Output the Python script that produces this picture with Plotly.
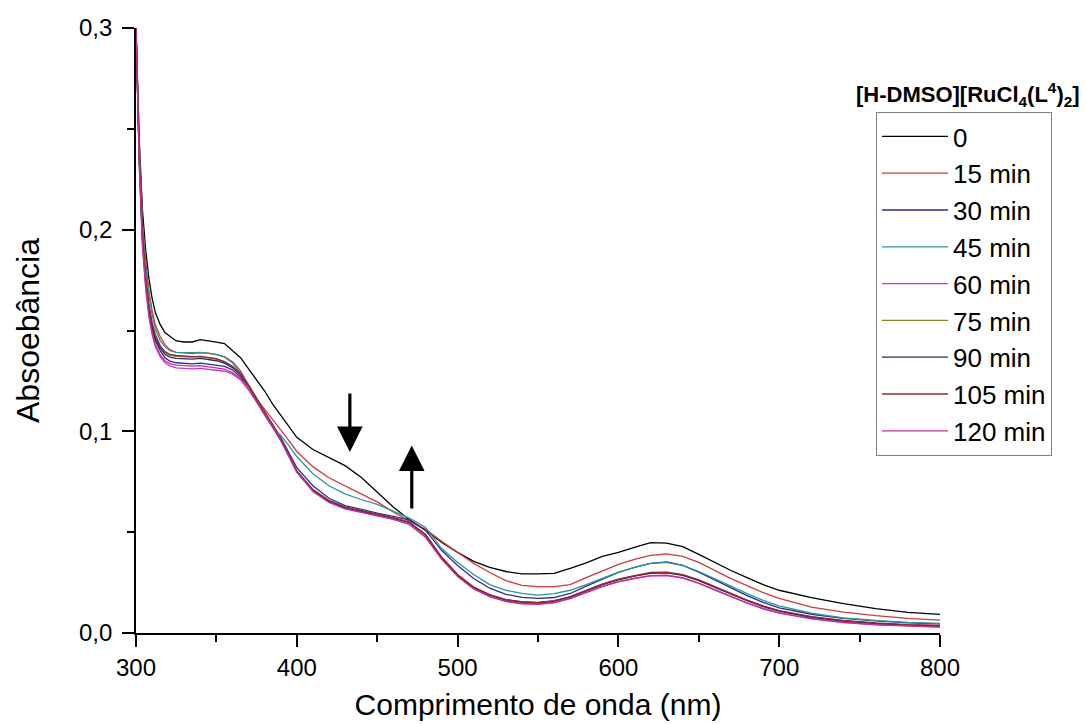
import plotly.graph_objects as go

# Wavelength grid (nm)
wavelength = [300, 302, 304, 306, 308, 310, 312, 315, 318, 321,
              325, 330, 335, 340, 345, 350, 355, 360, 365, 370, 375, 380, 385, 390, 395, 400,
              410, 420, 430, 440, 450, 460, 470, 480, 490, 500, 510, 520, 530, 540, 550, 560,
              570, 580, 590, 600, 610, 620, 630, 640, 650, 660, 670, 680, 690, 700,
              720, 740, 760, 780, 800]

abs_0 = [0.300, 0.245, 0.210, 0.190, 0.176, 0.166, 0.159, 0.153, 0.149, 0.147,
         0.1448, 0.1443, 0.1443, 0.1455, 0.1450, 0.1442, 0.1435, 0.1400, 0.1365, 0.1310, 0.1255, 0.1200, 0.1135, 0.1080, 0.1020, 0.0970,
         0.0910, 0.0870, 0.0830, 0.0772, 0.0700, 0.0625, 0.0562, 0.0510, 0.0450, 0.0400, 0.0355, 0.0325, 0.0305, 0.0293, 0.0293, 0.0296,
         0.0320, 0.0348, 0.0380, 0.0400, 0.0425, 0.0448, 0.0446, 0.0428, 0.0390, 0.0350, 0.0310, 0.0275, 0.0240, 0.0212,
         0.0175, 0.0146, 0.0121, 0.0102, 0.0092]

abs_15 = [0.300, 0.242, 0.204, 0.184, 0.170, 0.160, 0.153, 0.147, 0.143, 0.1405,
          0.1392, 0.1387, 0.1385, 0.1390, 0.1388, 0.1380, 0.1370, 0.1345, 0.1300, 0.1230, 0.1160, 0.1110, 0.1060, 0.1010, 0.0955, 0.0900,
          0.0825, 0.0770, 0.0728, 0.0690, 0.0650, 0.0600, 0.0555, 0.0515, 0.0455, 0.0400, 0.0345, 0.0300, 0.0260, 0.0236, 0.0230, 0.0230,
          0.0240, 0.0275, 0.0308, 0.0340, 0.0365, 0.0385, 0.0392, 0.0380, 0.0350, 0.0310, 0.0270, 0.0235, 0.0200, 0.0172,
          0.0128, 0.0103, 0.0086, 0.0073, 0.0064]

abs_30 = [0.300, 0.236, 0.196, 0.175, 0.160, 0.151, 0.145, 0.140, 0.1365, 0.1348,
          0.1340, 0.1336, 0.1335, 0.1338, 0.1333, 0.1330, 0.1322, 0.1305, 0.1270, 0.1225, 0.1160, 0.1095, 0.1030, 0.0970, 0.0895, 0.0820,
          0.0730, 0.0668, 0.0632, 0.0612, 0.0595, 0.0578, 0.0560, 0.0510, 0.0410, 0.0335, 0.0270, 0.0222, 0.0192, 0.0177, 0.0172, 0.0176,
          0.0196, 0.0232, 0.0268, 0.0300, 0.0325, 0.0345, 0.0352, 0.0335, 0.0302, 0.0262, 0.0222, 0.0185, 0.0152, 0.0125,
          0.0093, 0.0073, 0.0060, 0.0050, 0.0045]

abs_45 = [0.300, 0.240, 0.202, 0.182, 0.168, 0.158, 0.151, 0.145, 0.1420, 0.1400,
          0.1392, 0.1390, 0.1390, 0.1392, 0.1388, 0.1382, 0.1368, 0.1340, 0.1290, 0.1225, 0.1150, 0.1080, 0.1020, 0.0980, 0.0930, 0.0875,
          0.0790, 0.0730, 0.0690, 0.0662, 0.0638, 0.0605, 0.0570, 0.0525, 0.0420, 0.0350, 0.0290, 0.0240, 0.0212, 0.0196, 0.0188, 0.0195,
          0.0212, 0.0240, 0.0272, 0.0302, 0.0325, 0.0345, 0.0350, 0.0335, 0.0305, 0.0270, 0.0232, 0.0195, 0.0162, 0.0135,
          0.0098, 0.0075, 0.0062, 0.0053, 0.0048]

abs_60 = [0.300, 0.232, 0.192, 0.171, 0.157, 0.148, 0.142, 0.1370, 0.1340, 0.1325,
          0.1315, 0.1311, 0.1310, 0.1312, 0.1306, 0.1303, 0.1298, 0.1285, 0.1255, 0.1205, 0.1145, 0.1085, 0.1020, 0.0955, 0.0880, 0.0800,
          0.0705, 0.0650, 0.0618, 0.0600, 0.0585, 0.0565, 0.0540, 0.0478, 0.0370, 0.0283, 0.0220, 0.0182, 0.0158, 0.0147, 0.0144, 0.0152,
          0.0172, 0.0202, 0.0232, 0.0255, 0.0272, 0.0285, 0.0287, 0.0274, 0.0248, 0.0215, 0.0182, 0.0150, 0.0122, 0.0101,
          0.0072, 0.0053, 0.0042, 0.0035, 0.0030]

abs_75 = [0.300, 0.236, 0.197, 0.176, 0.162, 0.153, 0.147, 0.1420, 0.1390, 0.1378,
          0.1372, 0.1370, 0.1368, 0.1370, 0.1365, 0.1358, 0.1345, 0.1322, 0.1285, 0.1230, 0.1165, 0.1100, 0.1030, 0.0962, 0.0885, 0.0805,
          0.0712, 0.0658, 0.0625, 0.0607, 0.0592, 0.0572, 0.0550, 0.0490, 0.0378, 0.0290, 0.0228, 0.0190, 0.0166, 0.0155, 0.0152, 0.0160,
          0.0180, 0.0210, 0.0242, 0.0266, 0.0284, 0.0298, 0.0300, 0.0288, 0.0262, 0.0228, 0.0194, 0.0162, 0.0133, 0.0110,
          0.0080, 0.0060, 0.0048, 0.0040, 0.0036]

abs_90 = [0.300, 0.236, 0.196, 0.175, 0.161, 0.152, 0.146, 0.1412, 0.1382, 0.1368,
          0.1362, 0.1360, 0.1358, 0.1362, 0.1356, 0.1350, 0.1338, 0.1316, 0.1280, 0.1226, 0.1160, 0.1094, 0.1026, 0.0958, 0.0880, 0.0800,
          0.0708, 0.0654, 0.0622, 0.0604, 0.0589, 0.0570, 0.0548, 0.0487, 0.0375, 0.0288, 0.0226, 0.0188, 0.0164, 0.0153, 0.0150, 0.0158,
          0.0178, 0.0208, 0.0240, 0.0264, 0.0282, 0.0296, 0.0298, 0.0286, 0.0260, 0.0226, 0.0192, 0.0160, 0.0131, 0.0108,
          0.0078, 0.0059, 0.0047, 0.0039, 0.0035]

abs_105 = [0.300, 0.237, 0.198, 0.177, 0.163, 0.154, 0.148, 0.1425, 0.1395, 0.1382,
           0.1376, 0.1373, 0.1370, 0.1372, 0.1367, 0.1360, 0.1346, 0.1322, 0.1285, 0.1228, 0.1162, 0.1096, 0.1027, 0.0958, 0.0882, 0.0802,
           0.0710, 0.0656, 0.0624, 0.0606, 0.0591, 0.0571, 0.0549, 0.0488, 0.0376, 0.0289, 0.0227, 0.0189, 0.0165, 0.0154, 0.0151, 0.0159,
           0.0179, 0.0210, 0.0242, 0.0267, 0.0285, 0.0300, 0.0302, 0.0290, 0.0263, 0.0229, 0.0195, 0.0163, 0.0134, 0.0111,
           0.0081, 0.0062, 0.0050, 0.0042, 0.0038]

abs_120 = [0.300, 0.233, 0.193, 0.172, 0.158, 0.149, 0.143, 0.1380, 0.1350, 0.1336,
           0.1328, 0.1325, 0.1323, 0.1326, 0.1320, 0.1316, 0.1308, 0.1292, 0.1262, 0.1212, 0.1150, 0.1088, 0.1022, 0.0955, 0.0878, 0.0798,
           0.0702, 0.0647, 0.0615, 0.0597, 0.0582, 0.0563, 0.0538, 0.0475, 0.0366, 0.0280, 0.0218, 0.0180, 0.0156, 0.0145, 0.0142, 0.0150,
           0.0170, 0.0200, 0.0230, 0.0253, 0.0270, 0.0283, 0.0285, 0.0272, 0.0246, 0.0213, 0.0180, 0.0148, 0.0120, 0.0099,
           0.0070, 0.0052, 0.0041, 0.0034, 0.0029]

series_names = ["0", "15 min", "30 min", "45 min", "60 min", "75 min", "90 min", "105 min", "120 min"]
series_values = [abs_0, abs_15, abs_30, abs_45, abs_60, abs_75, abs_90, abs_105, abs_120]
series_colors = ["#000000", "#d03a3a", "#2a2aa0", "#2e9595", "#c23cc2",
                 "#85852a", "#2a2a66", "#8a2e2e", "#cc2a96"]

x_range = [300, 800]
y_range = [0, 0.3]

# arrows: (x, tail y, head y)
arrow_down = (433, 0.1195, 0.0897)
arrow_up = (471.5, 0.0610, 0.0930)

SANS = "Liberation Sans, Arial, sans-serif"
PLOT_W, PLOT_H = 804, 605

fig = go.Figure()
for name, vals, col in zip(series_names, series_values, series_colors):
    fig.add_trace(go.Scatter(x=wavelength, y=vals, mode="lines", name=name,
                             line=dict(color=col, width=1.3)))

fig.update_layout(
    width=1086, height=724,
    margin=dict(l=136, r=146, t=28, b=91),
    paper_bgcolor="white", plot_bgcolor="white",
    font=dict(family=SANS, color="black"),
    separators=",.",
    showlegend=True,
    legend=dict(
        x=(876 - 136) / PLOT_W, y=(633 - 112) / PLOT_H, xanchor="left", yanchor="top",
        bordercolor="#7f7f7f", borderwidth=1, bgcolor="white",
        font=dict(family=SANS, size=26, color="black"),
        tracegroupgap=0, itemwidth=66,
    ),
)

fig.update_xaxes(
    range=x_range, tickmode="linear", tick0=300, dtick=100,
    ticks="outside", ticklen=12, tickwidth=1.5, tickcolor="black",
    showline=True, linecolor="black", linewidth=1.6,
    showgrid=False, zeroline=False, automargin=False,
    minor=dict(tickmode="linear", tick0=300, dtick=50, ticks="outside", ticklen=7,
               tickwidth=1.5, tickcolor="black", showgrid=False),
    tickfont=dict(family=SANS, size=24),
    title=dict(text="Comprimento de onda (nm)", font=dict(family=SANS, size=30), standoff=14),
)
fig.update_yaxes(
    range=y_range, tickmode="linear", tick0=0, dtick=0.1, tickformat=".1f",
    ticks="outside", ticklen=12, tickwidth=1.5, tickcolor="black", ticklabelstandoff=5,
    showline=True, linecolor="black", linewidth=1.6,
    showgrid=False, zeroline=False, automargin=False,
    minor=dict(tickmode="linear", tick0=0, dtick=0.05, ticks="outside", ticklen=7,
               tickwidth=1.5, tickcolor="black", showgrid=False),
    tickfont=dict(family=SANS, size=24),
    title=dict(text="Absoebância", font=dict(family=SANS, size=32), standoff=30),
)

fig.add_annotation(
    text="[H-DMSO][RuCl<sub>4</sub>(L<sup>4</sup>)<sub>2</sub>]",
    xref="paper", yref="paper", x=(968 - 136) / PLOT_W, y=(633 - 95) / PLOT_H,
    xanchor="center", yanchor="middle", showarrow=False,
    font=dict(family=SANS, size=22, color="black", weight="bold"),
)

for ax_x, tail_y, head_y in (arrow_down, arrow_up):
    fig.add_annotation(
        x=ax_x, y=head_y, ax=ax_x, ay=tail_y, xref="x", yref="y", axref="x", ayref="y",
        text="", showarrow=True, arrowhead=2, arrowsize=1.6, arrowwidth=3.2, arrowcolor="black",
    )

fig.write_html("out.html")
